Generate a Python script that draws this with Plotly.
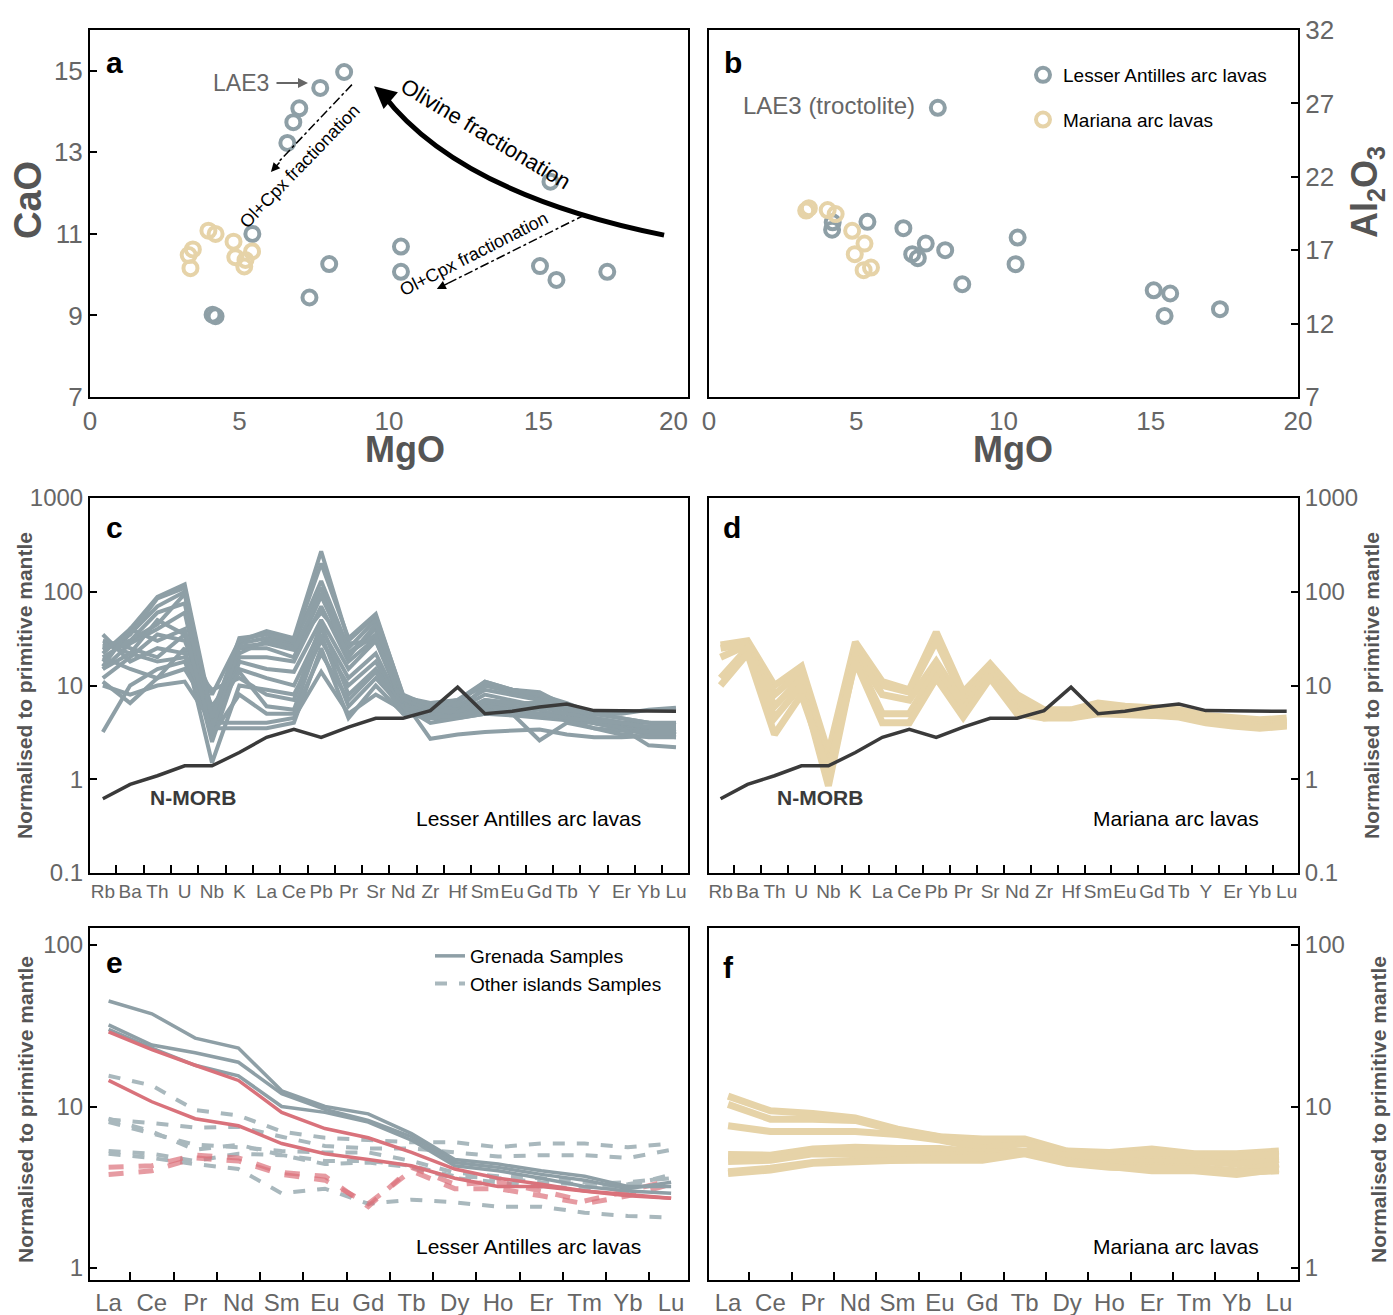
import plotly.graph_objects as go

W, H = 1393, 1315

# ------------------------------------------------------------------ data
# Panel a : MgO vs CaO
la_mgo_a = [8.5, 7.7, 7.0, 6.8, 6.6, 15.4, 5.43, 10.4, 8.0, 10.4, 15.05, 15.6, 17.3, 7.34, 4.1, 4.2]
la_cao_a = [14.97, 14.58, 14.08, 13.74, 13.23, 12.28, 11.0, 10.69, 10.26, 10.07, 10.21, 9.87, 10.07, 9.44, 9.02, 8.98]
ma_mgo_a = [3.3, 3.44, 3.36, 3.96, 4.2, 4.8, 4.86, 5.2, 5.16, 5.42]
ma_cao_a = [10.48, 10.62, 10.16, 11.08, 11.0, 10.81, 10.43, 10.36, 10.2, 10.57]

# Panel b : MgO vs Al2O3
la_mgo_b = [7.77, 4.18, 4.2, 5.38, 6.6, 7.36, 6.9, 7.09, 8.02, 10.48, 10.41, 8.6, 15.1, 15.66, 15.47, 17.35]
la_al_b = [26.7, 18.4, 18.9, 18.93, 18.5, 17.45, 16.73, 16.46, 17.0, 17.86, 16.05, 14.68, 14.27, 14.05, 12.52, 12.98]
ma_mgo_b = [3.3, 3.39, 4.03, 4.3, 4.86, 5.28, 4.95, 5.25, 5.5]
ma_al_b = [19.7, 19.86, 19.73, 19.46, 18.32, 17.45, 16.73, 15.64, 15.82]

# Panels c, d : spider diagrams
spider_elems = ["Rb", "Ba", "Th", "U", "Nb", "K", "La", "Ce", "Pb", "Pr", "Sr",
                "Nd", "Zr", "Hf", "Sm", "Eu", "Gd", "Tb", "Y", "Er", "Yb", "Lu"]
nmorb = [0.62, 0.88, 1.09, 1.39, 1.39, 1.93, 2.8, 3.4, 2.8, 3.6, 4.47,
         4.47, 5.4, 9.6, 5.0, 5.3, 5.9, 6.35, 5.4, 5.4, 5.4, 5.3]

antilles_spider = [
    [22, 40, 88, 120, 5, 30, 38, 32, 270, 30, 55, 8, 6, 7, 11, 9, 8, 6, 5, 4.5, 4, 3.8],
    [18, 35, 70, 100, 4, 28, 32, 28, 130, 25, 50, 7.5, 6.5, 7, 10, 8.5, 7.5, 5.5, 4.5, 4, 3.5, 3.5],
    [25, 30, 45, 95, 3.5, 25, 25, 20, 90, 22, 40, 7, 6, 6, 9, 8, 7, 5.5, 4.5, 4, 3.5, 3.2],
    [15, 28, 40, 60, 3, 20, 20, 18, 70, 18, 32, 6.5, 5.5, 5.5, 8, 7, 6, 5, 4.2, 3.8, 3.3, 3.0],
    [30, 25, 20, 35, 2.5, 18, 15, 14, 50, 15, 30, 6, 5, 5, 7, 6.5, 6, 5, 4, 3.5, 3.2, 3.0],
    [12, 20, 35, 30, 6, 15, 12, 10, 40, 12, 22, 5.5, 5, 5, 6.5, 6, 5.5, 4.5, 4, 3.5, 3.0, 2.8],
    [20, 15, 12, 25, 1.5, 10, 9, 8, 30, 10, 18, 5.5, 5, 5, 6, 5.5, 5, 4.5, 4, 3.5, 3.0, 3.0],
    [10, 8, 10, 11, 4, 4, 4, 4.5, 14, 5, 8, 5.5, 6, 5.5, 6, 5.5, 5, 5, 4.5, 4, 4, 3.8],
    [3.2, 10, 15, 18, 3.5, 3.5, 3.5, 4, 25, 4.5, 10, 5, 4.5, 4.5, 5, 4.8, 4.5, 4.2, 4, 3.5, 3.2, 3.0],
    [11, 6.5, 12, 15, 5, 22, 30, 26, 60, 28, 30, 7, 2.7, 3, 3.2, 3.3, 3.4, 3.0, 2.8, 2.8, 2.9, 3.0],
    [15, 22, 50, 35, 8, 30, 36, 30, 110, 22, 35, 6, 4, 4.5, 5, 5, 2.6, 4, 3.5, 3.3, 3.2, 3.2],
    [28, 22, 18, 20, 9, 12, 8, 7, 45, 8, 15, 6, 5.5, 5, 10, 9, 8.5, 6, 4.5, 3.5, 2.3, 2.2],
    [35, 18, 25, 22, 4.5, 14, 6, 5.5, 35, 6, 12, 5.8, 4.8, 4.8, 5.5, 5, 4.8, 4.3, 3.5, 3.0, 2.8, 2.8],
    [20, 30, 60, 75, 3.5, 26, 28, 24, 95, 20, 45, 7.2, 5.5, 5.2, 7, 6.5, 6.5, 5.5, 5, 5, 5.5, 5.8],
    [16, 40, 30, 40, 3, 8, 5, 5, 22, 7, 14, 5, 4.5, 4.8, 5.5, 5, 5, 4.5, 4.2, 4, 3.6, 3.6],
    [24, 35, 85, 110, 4.5, 32, 35, 30, 200, 32, 58, 7.8, 6, 6.5, 11, 9, 8, 6.5, 5, 4.5, 4, 4],
]
mariana_spider = [
    [27, 30, 10, 16, 1.9, 29, 11, 9, 37, 8.5, 17, 8, 5.5, 5.5, 6.5, 6, 5.8, 5.5, 4.8, 4.5, 4.3, 4.5],
    [25, 28, 8, 14, 1.3, 25, 10, 8.5, 30, 7.5, 16, 7, 5, 5.2, 6.2, 5.8, 5.5, 5.2, 4.5, 4.2, 4.0, 4.2],
    [20, 27, 6, 12, 1.0, 22, 8, 7, 18, 6.5, 15, 6.5, 5, 5, 6, 5.5, 5.3, 5, 4.3, 4, 3.8, 4.0],
    [12, 25, 4.5, 10, 0.85, 20, 5, 5, 15, 5.5, 14, 5.5, 4.5, 4.8, 5.5, 5.3, 5, 4.8, 4.2, 3.8, 3.6, 3.8],
    [10, 22, 3, 8, 1.2, 18, 4, 4, 12, 4.6, 12, 5, 4.5, 4.5, 5, 5, 4.8, 4.6, 4, 3.7, 3.5, 3.7],
]

# Panels e, f : REE patterns
ree = ["La", "Ce", "Pr", "Nd", "Sm", "Eu", "Gd", "Tb", "Dy", "Ho", "Er", "Tm", "Yb", "Lu"]
grenada_gray = [
    [45, 37.5, 26.5, 23, 12.5, 10, 9.0, 6.8, 4.7, 4.4, 4.0, 3.7, 3.2, 3.2],
    [32, 24, 21.5, 18.8, 12, 9.6, 8.2, 6.5, 4.5, 4.2, 3.8, 3.5, 3.1, 3.4],
    [30, 23, 18, 15.5, 10, 9.2, 8.0, 6.2, 4.3, 4.0, 3.6, 3.2, 3.0, 2.9],
]
grenada_red = [
    [29, 22.5, 18, 14.5, 9.2, 7.3, 6.4, 5.2, 4.1, 3.6, 3.3, 3.0, 2.85, 2.7],
    [14.5, 10.7, 8.4, 7.6, 5.9, 5.1, 4.7, 4.3, 3.6, 3.2, 3.2, 3.0, 2.8, 2.7],
]
other_gray = [
    [15.5, 13.5, 9.5, 8.8, 7.0, 6.4, 6.2, 6.0, 6.0, 5.6, 5.9, 5.9, 5.6, 5.9],
    [8.3, 7.9, 7.4, 7.5, 6.5, 5.7, 5.5, 5.5, 5.2, 4.9, 5.0, 5.0, 4.8, 5.4],
    [8.0, 6.8, 5.8, 5.6, 5.3, 5.2, 5.2, 4.6, 3.9, 3.7, 3.6, 3.4, 3.2, 3.8],
    [5.3, 5.1, 4.6, 5.1, 5.0, 4.6, 4.6, 4.3, 3.7, 3.6, 3.4, 3.3, 3.4, 3.6],
    [5.1, 4.8, 4.4, 4.1, 2.9, 3.1, 2.5, 2.65, 2.55, 2.4, 2.4, 2.2, 2.1, 2.05],
    [8.4, 7.0, 5.4, 5.8, 5.0, 4.4, 4.5, 4.2, 3.6, 3.4, 3.2, 3.1, 3.3, 3.7],
]
other_red = [
    [4.2, 4.3, 5.0, 4.8, 3.9, 3.7, 2.4, 4.2, 3.3, 3.4, 3.0, 2.6, 3.0, 3.5],
    [3.8, 4.0, 4.8, 4.6, 3.8, 3.5, 2.5, 4.0, 3.1, 3.1, 2.8, 2.5, 2.8, 3.3],
]
mariana_ree = [
    [11.6, 9.4, 9.05, 8.5, 7.25, 6.5, 6.3, 6.3, 5.3, 5.2, 5.45, 5.1, 5.1, 5.3],
    [10.3, 8.35, 8.35, 8.2, 7.1, 6.4, 5.9, 6.0, 5.2, 5.0, 4.9, 4.9, 4.7, 4.9],
    [7.6, 7.0, 7.0, 7.0, 6.7, 6.2, 5.5, 5.9, 4.9, 4.7, 4.5, 4.6, 4.4, 4.7],
    [5.05, 5.0, 5.45, 5.6, 5.5, 5.5, 5.2, 5.3, 5.0, 4.9, 5.2, 5.05, 4.9, 5.05],
    [4.56, 4.65, 5.1, 5.05, 5.05, 5.0, 5.0, 5.2, 4.6, 4.35, 4.25, 4.2, 4.0, 4.4],
    [3.95, 4.15, 4.5, 4.65, 4.65, 4.65, 4.65, 5.1, 4.45, 4.2, 4.1, 4.1, 3.9, 4.0],
    [3.85, 4.05, 4.45, 4.6, 4.65, 4.75, 4.8, 5.2, 4.5, 4.25, 4.0, 4.0, 3.8, 4.1],
]

mgo_ticks = [0, 5, 10, 15, 20]
mgo_labels_a = ["0", "5", "10", "15", "20\u2007\u2007"]
mgo_labels_b = ["0", "5", "10", "15", "20"]

# ------------------------------------------------------------------ style
FONT = "Liberation Sans, Arial, sans-serif"
NARROW = "Liberation Sans Narrow, Arial Narrow, Liberation Sans, Arial, sans-serif"
GRAY = "#8e9fa6"
GRAY_D = "#a9b8bd"
TAN = "#e6d3a8"
RED = "#d9727b"
RED_D = "rgba(220,112,122,0.7)"
DARK = "#3a3a3a"
TICK = "#666666"
TITLE = "#555555"


def px(x):
    return x / W


def py(y):
    return 1 - y / H


fig = go.Figure()

# ---------- panel a
fig.add_trace(go.Scatter(x=la_mgo_a, y=la_cao_a, mode="markers", xaxis="x", yaxis="y",
                         marker=dict(symbol="circle-open", size=14, color=GRAY, line=dict(width=4, color=GRAY)),
                         showlegend=False))
fig.add_trace(go.Scatter(x=ma_mgo_a, y=ma_cao_a, mode="markers", xaxis="x", yaxis="y",
                         marker=dict(symbol="circle-open", size=14, color=TAN, line=dict(width=4, color=TAN)),
                         showlegend=False))
# ---------- panel b
fig.add_trace(go.Scatter(x=la_mgo_b, y=la_al_b, mode="markers", xaxis="x2", yaxis="y2",
                         marker=dict(symbol="circle-open", size=14, color=GRAY, line=dict(width=4, color=GRAY)),
                         name="Lesser Antilles arc lavas", legendgroup="la", legend="legend"))
fig.add_trace(go.Scatter(x=ma_mgo_b, y=ma_al_b, mode="markers", xaxis="x2", yaxis="y2",
                         marker=dict(symbol="circle-open", size=14, color=TAN, line=dict(width=4, color=TAN)),
                         name="Mariana arc lavas", legendgroup="ma", legend="legend"))

# ---------- panel c
xi = list(range(len(spider_elems)))
for row in antilles_spider:
    fig.add_trace(go.Scatter(x=xi, y=row, mode="lines", xaxis="x3", yaxis="y3",
                             line=dict(color=GRAY, width=4), showlegend=False))
fig.add_trace(go.Scatter(x=xi, y=nmorb, mode="lines", xaxis="x3", yaxis="y3",
                         line=dict(color=DARK, width=3.5), showlegend=False))
# ---------- panel d
for row in mariana_spider:
    fig.add_trace(go.Scatter(x=xi, y=row, mode="lines", xaxis="x4", yaxis="y4",
                             line=dict(color=TAN, width=7), showlegend=False))
fig.add_trace(go.Scatter(x=xi, y=nmorb, mode="lines", xaxis="x4", yaxis="y4",
                         line=dict(color=DARK, width=3.5), showlegend=False))

# ---------- panel e
ri = list(range(len(ree)))
for k, row in enumerate(other_gray):
    fig.add_trace(go.Scatter(x=ri, y=row, mode="lines", xaxis="x5", yaxis="y5",
                             line=dict(color=GRAY_D, width=4, dash="dash"),
                             name="Other islands Samples", legendgroup="oth", legend="legend2",
                             showlegend=(k == 0)))
for row in other_red:
    fig.add_trace(go.Scatter(x=ri, y=row, mode="lines", xaxis="x5", yaxis="y5",
                             line=dict(color=RED_D, width=5, dash="dash"), showlegend=False))
for k, row in enumerate(grenada_gray):
    fig.add_trace(go.Scatter(x=ri, y=row, mode="lines", xaxis="x5", yaxis="y5",
                             line=dict(color=GRAY, width=3.5),
                             name="Grenada Samples", legendgroup="gre", legend="legend2",
                             showlegend=(k == 0)))
for row in grenada_red:
    fig.add_trace(go.Scatter(x=ri, y=row, mode="lines", xaxis="x5", yaxis="y5",
                             line=dict(color=RED, width=3.5), showlegend=False))
# ---------- panel f
for row in mariana_ree:
    fig.add_trace(go.Scatter(x=ri, y=row, mode="lines", xaxis="x6", yaxis="y6",
                             line=dict(color=TAN, width=7), showlegend=False))


# ------------------------------------------------------------------ axes
def base_axis(**kw):
    d = dict(showline=True, mirror=True, linecolor="black", linewidth=2, showgrid=False,
             zeroline=False, fixedrange=True, tickcolor="black", ticklen=7, tickwidth=1.5,
             automargin=False, tickangle=0)
    d.update(kw)
    return d


XA = [px(90), px(688)]
XB = [px(709), px(1298)]
YAB = [py(397), py(30)]
YCD = [py(873), py(498)]
YEF = [py(1280), py(928)]

num_font = dict(family=NARROW, size=26, color=TICK)

layout_axes = dict(
    xaxis=base_axis(domain=XA, range=[0, 20], tickmode="array", tickvals=mgo_ticks, ticktext=mgo_labels_a,
                    ticks="", tickfont=num_font, anchor="y"),
    yaxis=base_axis(domain=YAB, range=[7, 16], tickmode="array", tickvals=[7, 9, 11, 13, 15],
                    ticks="inside", tickfont=num_font, anchor="x"),
    xaxis2=base_axis(domain=XB, range=[0, 20], tickmode="array", tickvals=mgo_ticks, ticktext=mgo_labels_b,
                     ticks="", tickfont=num_font, anchor="y2"),
    yaxis2=base_axis(domain=YAB, range=[7, 32], tickmode="array", tickvals=[7, 12, 17, 22, 27, 32],
                     ticks="inside", side="right", tickfont=num_font, anchor="x2"),
)

sp_font = dict(family=NARROW, size=19, color=TICK)
log_font = dict(family=NARROW, size=24, color=TICK)
ree_font = dict(family=NARROW, size=24, color=TICK)
sp_minor = dict(tickmode="array", tickvals=[i + 0.5 for i in range(len(spider_elems) - 1)],
                ticks="inside", ticklen=8, tickcolor="black", tickwidth=1.5)
ree_minor = dict(tickmode="array", tickvals=[i + 0.5 for i in range(len(ree) - 1)],
                 ticks="inside", ticklen=8, tickcolor="black", tickwidth=1.5)

layout_axes.update(
    xaxis3=base_axis(domain=XA, range=[-0.47, 21.44], tickmode="array", tickvals=xi, ticktext=spider_elems,
                     ticks="", tickfont=sp_font, anchor="y3", minor=sp_minor),
    yaxis3=base_axis(domain=YCD, type="log", range=[-1, 3], tickmode="array",
                     tickvals=[0.1, 1, 10, 100, 1000], ticktext=["0.1", "1", "10", "100", "1000"],
                     ticks="inside", tickfont=log_font, anchor="x3"),
    xaxis4=base_axis(domain=XB, range=[-0.43, 21.42], tickmode="array", tickvals=xi, ticktext=spider_elems,
                     ticks="", tickfont=sp_font, anchor="y4", minor=sp_minor),
    yaxis4=base_axis(domain=YCD, type="log", range=[-1, 3], tickmode="array",
                     tickvals=[0.1, 1, 10, 100, 1000], ticktext=["0.1", "1", "10", "100", "1000"],
                     ticks="inside", side="right", tickfont=log_font, anchor="x4"),
    xaxis5=base_axis(domain=XA, range=[-0.43, 13.39], tickmode="array", tickvals=ri, ticktext=ree,
                     ticks="", tickfont=ree_font, anchor="y5", minor=ree_minor),
    yaxis5=base_axis(domain=YEF, type="log", range=[-0.074, 2.105], tickmode="array",
                     tickvals=[1, 10, 100], ticktext=["1", "10", "100"],
                     ticks="inside", tickfont=log_font, anchor="x5"),
    xaxis6=base_axis(domain=XB, range=[-0.45, 13.45], tickmode="array", tickvals=ri, ticktext=ree,
                     ticks="", tickfont=ree_font, anchor="y6", minor=ree_minor),
    yaxis6=base_axis(domain=YEF, type="log", range=[-0.074, 2.105], tickmode="array",
                     tickvals=[1, 10, 100], ticktext=["1", "10", "100"],
                     ticks="inside", side="right", tickfont=log_font, anchor="x6"),
)

# ------------------------------------------------------------------ annotations
anns = []


def ann(x, y, text, size, color="black", bold=False, angle=0, xanchor="center", family=FONT):
    t = f"<b>{text}</b>" if bold else text
    anns.append(dict(x=px(x), y=py(y), xref="paper", yref="paper", text=t, showarrow=False,
                     xanchor=xanchor, yanchor="middle", textangle=angle,
                     font=dict(size=size, color=color, family=family)))


# panel letters
ann(115, 62, "a", 30, bold=True)
ann(733, 62, "b", 30, bold=True)
ann(114, 527, "c", 30, bold=True)
ann(732, 527, "d", 30, bold=True)
ann(114, 963, "e", 30, bold=True)
ann(728, 967, "f", 30, bold=True)

# axis titles
ann(28, 200, "CaO", 38, TITLE, bold=True, angle=-90)
ann(405, 449, "MgO", 36, TITLE, bold=True)
ann(1013, 449, "MgO", 36, TITLE, bold=True)
ann(1367, 192, "Al<sub>2</sub>O<sub>3</sub>", 36, TITLE, bold=True, angle=-90)
ann(25, 686, "Normalised to primitive mantle", 21, TITLE, bold=True, angle=-90)
ann(1372, 686, "Normalised to primitive mantle", 21, TITLE, bold=True, angle=-90)
ann(25, 1110, "Normalised to primitive mantle", 21, TITLE, bold=True, angle=-90)
ann(1378, 1110, "Normalised to primitive mantle", 21, TITLE, bold=True, angle=-90)

# panel texts
ann(241, 83, "LAE3", 23, TICK, family=NARROW)
ann(829, 106, "LAE3 (troctolite)", 24, TICK, family=NARROW)
ann(485, 134, "Olivine fractionation", 22, angle=31)
ann(300, 166, "Ol+Cpx fractionation", 18, angle=-46)
ann(474, 254, "Ol+Cpx fractionation", 18, angle=-27)
ann(193, 797, "N-MORB", 21, DARK, bold=True)
ann(820, 797, "N-MORB", 21, DARK, bold=True)
ann(528, 818, "Lesser Antilles arc lavas", 21)
ann(1176, 818, "Mariana arc lavas", 21)
ann(528, 1246, "Lesser Antilles arc lavas", 21)
ann(1176, 1246, "Mariana arc lavas", 21)

# arrows (LAE3 pointer)
anns.append(dict(x=px(308), y=py(83), xref="paper", yref="paper", ax=-33, ay=0, text="",
                 showarrow=True, arrowhead=2, arrowsize=1, arrowwidth=2, arrowcolor=TICK, standoff=0))
# olivine fractionation arrowhead
anns.append(dict(x=9.5, y=14.62, xref="x", yref="y", ax=14, ay=12, text="",
                 showarrow=True, arrowhead=2, arrowsize=1.1, arrowwidth=4, arrowcolor="black", standoff=0))
# Ol+Cpx arrowheads
anns.append(dict(x=6.05, y=12.52, xref="x", yref="y", ax=10, ay=-11, text="",
                 showarrow=True, arrowhead=2, arrowsize=1.2, arrowwidth=1.5, arrowcolor="black", standoff=0))
anns.append(dict(x=11.6, y=9.65, xref="x", yref="y", ax=13, ay=-6.5, text="",
                 showarrow=True, arrowhead=2, arrowsize=1.2, arrowwidth=1.5, arrowcolor="black", standoff=0))

shapes = [
    dict(type="path", xref="x", yref="y", path="M 19.2,10.97 Q 12.33,11.99 9.8,14.42",
         line=dict(color="black", width=5)),
    dict(type="line", xref="x", yref="y", x0=8.76, y0=14.66, x1=6.3, y1=12.76,
         line=dict(color="black", width=1.5, dash="dashdot")),
    dict(type="line", xref="x", yref="y", x0=16.56, y0=11.47, x1=11.95, y1=9.78,
         line=dict(color="black", width=1.5, dash="dashdot")),
]

fig.update_layout(
    width=W, height=H, autosize=False,
    margin=dict(l=0, r=0, t=0, b=0, pad=0),
    paper_bgcolor="white", plot_bgcolor="white",
    font=dict(family=FONT),
    annotations=anns, shapes=shapes,
    legend=dict(x=px(1023), y=py(56), xanchor="left", yanchor="top", bgcolor="rgba(0,0,0,0)",
                font=dict(size=19, color="black", family=FONT), tracegroupgap=17,
                traceorder="grouped", itemclick=False, itemdoubleclick=False),
    legend2=dict(x=px(430), y=py(937), xanchor="left", yanchor="top", bgcolor="rgba(0,0,0,0)",
                 font=dict(size=19, color="black", family=FONT), tracegroupgap=0,
                 traceorder="reversed", itemclick=False, itemdoubleclick=False),
    **layout_axes,
)

fig.write_html("out.html",
               config={"displayModeBar": False},
               post_script="document.body.style.margin='0px';document.body.style.padding='0px';"
                           "document.documentElement.style.overflow='hidden';")
